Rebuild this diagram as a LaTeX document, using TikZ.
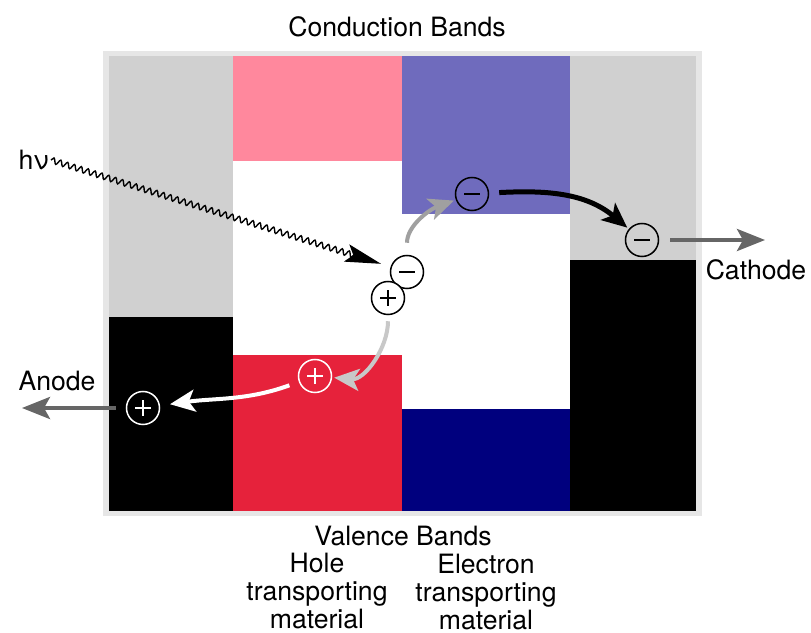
\documentclass[tikz,border=0pt]{standalone}
\usepackage{fontspec}
\setmainfont{TeX Gyre Heros}
\definecolor{framegray}{HTML}{E6E6E6}
\definecolor{bandgray}{HTML}{D0D0D0}
\definecolor{htmpink}{HTML}{FF889D}
\definecolor{htmred}{HTML}{E6223B}
\definecolor{etmblue}{HTML}{6F6BBD}
\definecolor{etmnavy}{HTML}{00007E}
\definecolor{leadgray}{HTML}{666666}
\definecolor{elgray}{HTML}{A0A0A0}
\definecolor{holegray}{HTML}{C8C8C8}
\usetikzlibrary{arrows.meta, positioning, decorations.pathmorphing}

\tikzset{
    label text/.style={font=\fontsize{13.3}{13.8}\selectfont, inner sep=0pt, align=center},
    charge/.style={circle, line width=0.75pt, minimum size=16.5pt, inner sep=0pt},
    negcharge/.style={charge, draw=#1, path picture={
        \draw[#1, line width=0.65pt] ([xshift=-4pt]path picture bounding box.center) -- ([xshift=4pt]path picture bounding box.center);}},
    negcharge/.default=black,
    poscharge/.style={charge, draw=#1, path picture={
        \draw[#1, line width=0.65pt] ([xshift=-4pt]path picture bounding box.center) -- ([xshift=4pt]path picture bounding box.center)
            ([yshift=-4pt]path picture bounding box.center) -- ([yshift=4pt]path picture bounding box.center);}},
    poscharge/.default=black,
    hop/.style={line width=2pt, -{Stealth[length=12.5pt, width=11pt, inset=3pt]}},
    lead/.style={leadgray, line width=2pt, -{Stealth[length=14pt, width=11pt, inset=3pt]}},
    photon/.style={line width=0.7pt, decorate, decoration={snake, segment length=3.6pt, amplitude=1.4pt, post length=15pt},
        -{Stealth[length=18pt, width=9pt, inset=3.5pt]}}
}

\begin{document}
\begin{tikzpicture}[x=0.5pt, y=0.5pt]
    \useasboundingbox (0,0) rectangle (811,633);

    % Frame
    \fill[framegray] (103,117) rectangle (702,582);
    \fill[white] (109,122) rectangle (696,577);

    % Left electrode
    \fill[bandgray] (109,316) rectangle (233,577);
    \fill[black] (109,122) rectangle (233,316);

    % Hole transporting material
    \fill[htmpink] (233,472) rectangle (402,577);
    \fill[htmred] (233,122) rectangle (402,278);

    % Electron transporting material
    \fill[etmblue] (402,419) rectangle (570,577);
    \fill[etmnavy] (402,122) rectangle (570,224);

    % Right electrode
    \fill[bandgray] (570,373) rectangle (696,577);
    \fill[black] (570,122) rectangle (696,373);

    % Charges
    \node[negcharge] (e1) at (472,439) {};
    \node[negcharge] (pairm) at (407,361) {};
    \node[poscharge, fill=white] (pairp) at (388,335) {};
    \node[negcharge] (e2) at (642,393) {};
    \node[poscharge=white] (h1) at (315,257) {};
    \node[poscharge=white] (h2) at (143,225) {};

    % Labels
    \node[label text] (cb) at (397,606) {Conduction Bands};
    \node[label text] (vb) at (403,97) {Valence Bands};
    \node[label text] (htm) at (317,42) {Hole\\transporting\\material};
    \node[label text] (etm) at (486,41) {Electron\\transporting\\material};
    \node[label text, anchor=east] (hnu) at (49,473) {hν};
    \node[label text] (cathode) at (756,363) {Cathode};
    \node[label text] (anode) at (57,252) {Anode};
    \coordinate (cathodeend) at (765,393);
    \coordinate (anodeend) at (22,225);

    % Photon
    \draw[photon, shorten >=5pt] ([xshift=1pt]hnu.east) -- (pairm);

    % Electron path
    \draw[hop, elgray, shorten <=6pt, shorten >=1pt] (pairm) to[out=90, in=200] (e1);
    \draw[hop, black, line width=2.5pt, shorten <=5pt, shorten >=1pt] (e1) to[out=3, in=140] (e2);
    \draw[lead, shorten <=5.5pt] (e2) -- (cathodeend);

    % Hole path
    \draw[hop, holegray, shorten <=3pt, shorten >=1pt] (pairp) to[out=-90, in=-5] (h1);
    \draw[hop, white, shorten <=5pt, shorten >=5pt] (h1) to[out=200, in=8] (h2);
    \draw[lead, shorten <=5pt] (h2) -- (anodeend);
\end{tikzpicture}
\end{document}
